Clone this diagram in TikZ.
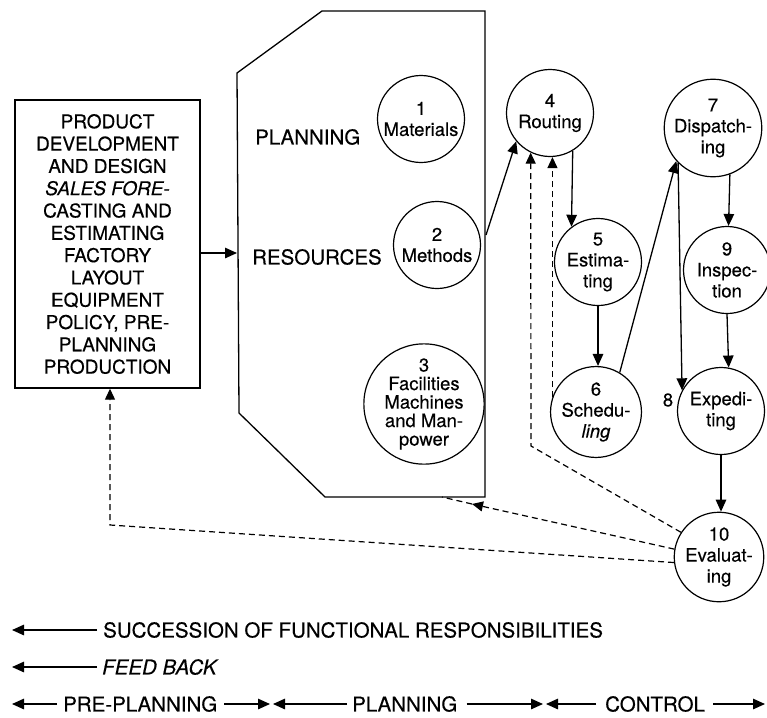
\documentclass[tikz,border=0pt]{standalone}
\usepackage{fontspec}
\setmainfont[FakeBold=0.35]{TeX Gyre Heros}
\usetikzlibrary{arrows.meta,calc}

\begin{document}
\begin{tikzpicture}[x=1pt,y=-1pt,
  proc/.style={circle,draw,line width=1.2pt,minimum size=87pt,inner sep=0pt,
    align=center,font=\fontsize{18.5}{21}\selectfont},
  flow/.style={line width=1.3pt,-{Triangle[length=12pt,width=10.5pt]}},
  fb/.style={line width=1.2pt,dash pattern=on 6pt off 4pt,-{Triangle[length=11pt,width=10pt]}},
  fbplain/.style={line width=1.2pt,dash pattern=on 6pt off 4pt},
  side/.style={inner sep=0pt,font=\fontsize{20.5}{24}\selectfont},
  legend/.style={inner sep=0pt,anchor=west,font=\fontsize{20.5}{24}\selectfont}]
\useasboundingbox (0,0) rectangle (767,717);

% pre-planning box
\node[draw,line width=1.4pt,minimum width=185pt,minimum height=288pt,inner sep=0pt,
  align=center,font=\fontsize{19}{22.3}\selectfont] (pre) at (107.5,244)
  {PRODUCT\\DEVELOPMENT\\AND DESIGN\\\textit{SALES FORE-}\\CASTING AND\\ESTIMATING\\
   FACTORY\\LAYOUT\\EQUIPMENT\\POLICY, PRE-\\PLANNING\\PRODUCTION};

% planning resources outline
\draw[line width=1.3pt] (237,73) -- (322,11) -- (485,11) -- (485,497)
  -- (325,497) -- (239,413) -- cycle;
\coordinate (polyin) at (237,253);
\coordinate (polyout) at (486,235);
\node[side,anchor=west] (planlab) at (255,137) {PLANNING};
\node[side,anchor=west] (reslab) at (252,257) {RESOURCES};

% functions
\node[proc] (n1) at (421,119) {1\\Materials};
\node[proc] (n2) at (437,245) {2\\Methods};
\node[proc,minimum size=116pt,font=\fontsize{18.5}{18.5}\selectfont] (n3) at (424,404)
  {3\\Facilities\\Machines\\and Man-\\power};
\node[proc] (n4) at (550,113) {4\\Routing};
\node[proc] (n5) at (598,262) {5\\Estima-\\ting};
\node[proc] (n6) at (596,412) {6\\Schedu-\\\textit{ling}};
\node[proc] (n7) at (713,128) {7\\Dispatch-\\ing};
\node[proc] (n9) at (727,270) {9\\Inspec-\\tion};
\node[proc] (n8) at (721,411) {Expedi-\\ting};
\node[inner sep=0pt,font=\fontsize{18.5}{21}\selectfont] (lab8) at (668,400) {8};
\node[proc] (n10) at (719,557) {10\\Evaluat-\\ing};

% succession of responsibilities
\draw[flow] (pre.east |- polyin) -- (polyin);
\draw[flow] (polyout) -- (n4.220);
\draw[flow] (n4.-59) -- (n5.127);
\draw[flow] (n5.south) -- (n5.south |- n6.north);
\draw[flow] (n6.59) -- (n7.222);
\draw[flow] (n7.-70) -- (n9.88);
\draw[flow] (n9.south) -- (n8.80);
\draw[flow] (n7.-135) -- (n8.152);
\draw[flow] (n8.south) -- (n8.south |- n10.north);

% feedback
\coordinate (a1) at (531,446);
\draw[fb] (n10.147) -- (a1) -- (n4.-116);
\draw[fb] (n6.161) -- (n6.161 |- n4.south);
\coordinate (c1) at (472,504);
\coordinate (c2) at (442,497);
\draw[fb] (n10.170) -- (c1);
\draw[fbplain] (c1) -- (c2);
\coordinate (d1) at (110,525);
\draw[fb] (n10.187) -- (d1) -- (d1 |- pre.south);

% key
\node[legend] (k1) at (103,630) {SUCCESSION OF FUNCTIONAL RESPONSIBILITIES};
\coordinate (k1tip) at (12,630);
\draw[flow] ([xshift=-6pt]k1.west) -- (k1tip);
\node[legend] (k2) at (102,667) {\textit{FEED BACK}};
\coordinate (k2tip) at (12,667);
\draw[flow] ([xshift=-5pt]k2.west) -- (k2tip);

\node[legend] (pp) at (63,704) {PRE-PLANNING};
\node[legend] (pl) at (352,704) {PLANNING};
\node[legend] (ct) at (605,704) {CONTROL};
\coordinate (t0) at (12,704);
\coordinate (t1) at (270,704);
\coordinate (t2) at (273,704);
\coordinate (t3) at (543,704);
\coordinate (t4) at (546,704);
\coordinate (t5) at (765,704);
\draw[flow] ([xshift=-6pt]pp.west) -- (t0);
\draw[flow] ([xshift=7pt]pp.east) -- (t1);
\draw[flow] ([xshift=-5pt]pl.west) -- (t2);
\draw[flow] ([xshift=9pt]pl.east) -- (t3);
\draw[flow] ([xshift=-9pt]ct.west) -- (t4);
\draw[flow] ([xshift=8pt]ct.east) -- (t5);
\end{tikzpicture}
\end{document}
